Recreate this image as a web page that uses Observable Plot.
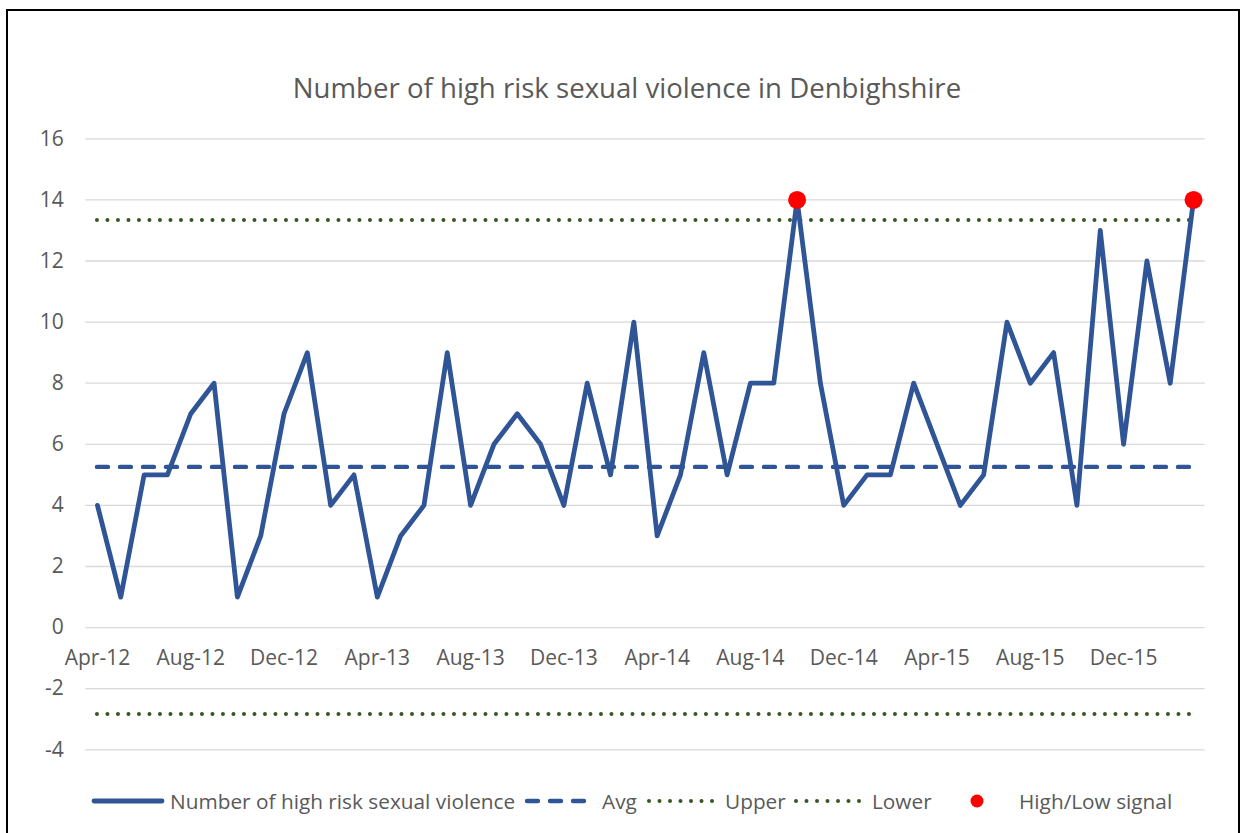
<!DOCTYPE html>
<html><head><meta charset="utf-8">
<script src="https://cdn.jsdelivr.net/npm/d3@7"></script>
<script src="https://cdn.jsdelivr.net/npm/@observablehq/plot@0.6"></script>
<style>
html,body{margin:0;padding:0;background:#fff;width:1240px;height:833px;overflow:hidden;font-family:"Open Sans",sans-serif;}
#frame{position:absolute;left:6px;top:9px;width:1234px;height:900px;border:2px solid #000;box-sizing:border-box;}
#title{position:absolute;left:0;width:1254px;top:68px;text-align:center;font-size:27.6px;color:#595959;white-space:nowrap;}
#chart{position:absolute;left:0;top:0;}
#legend{position:absolute;left:0;top:770px;}
#legend text{font-family:"Open Sans",sans-serif;font-size:20.8px;fill:#595959;}
</style></head><body>
<div id="frame"></div>
<div id="chart"></div>
<div id="title">Number of high risk sexual violence in Denbighshire</div>
<svg id="legend" width="1240" height="60"></svg>
<script>
const months = ["Apr-12","May-12","Jun-12","Jul-12","Aug-12","Sep-12","Oct-12","Nov-12","Dec-12","Jan-13","Feb-13","Mar-13",
"Apr-13","May-13","Jun-13","Jul-13","Aug-13","Sep-13","Oct-13","Nov-13","Dec-13","Jan-14","Feb-14","Mar-14",
"Apr-14","May-14","Jun-14","Jul-14","Aug-14","Sep-14","Oct-14","Nov-14","Dec-14","Jan-15","Feb-15","Mar-15",
"Apr-15","May-15","Jun-15","Jul-15","Aug-15","Sep-15","Oct-15","Nov-15","Dec-15","Jan-16","Feb-16","Mar-16"];
const counts = [4,1,5,5,7,8,1,3,7,9,4,5,
1,3,4,9,4,6,7,6,4,8,5,10,
3,5,9,5,8,8,14,8,4,5,5,8,
6,4,5,10,8,9,4,13,6,12,8,14];
const avg = 5.26;
const upper = 13.34;
const lower = -2.83;
const xTickLabels = ["Apr-12","Aug-12","Dec-12","Apr-13","Aug-13","Dec-13","Apr-14","Aug-14","Dec-14","Apr-15","Aug-15","Dec-15"];
const yTicks = [-4,-2,0,2,4,6,8,10,12,14,16];

const data = months.map((m,i)=>({i, month:m, value:counts[i]}));
const signals = data.filter(d => d.value > upper || d.value < lower);
const xTicks = xTickLabels.map(l => ({i: months.indexOf(l), label: l}));
const n = months.length;

const blue = "#2F5597", green = "#375623", grey = "#595959";
const fmt = d => d < 0 ? "-" + Math.abs(d) : String(d);

const plot = Plot.plot({
  width: 1240, height: 780,
  marginTop: 138.3, marginBottom: 30.7, marginLeft: 85.3, marginRight: 35.3,
  style: {fontFamily: "Open Sans, sans-serif", fontSize: "21px", color: grey, background: "transparent"},
  x: {type: "linear", domain: [-0.5, n - 0.5], axis: null},
  y: {domain: [-4, 16], ticks: yTicks, tickSize: 0, tickPadding: 22, label: null, tickFormat: fmt},
  marks: [
    Plot.ruleY(yTicks, {stroke: "#d9d9d9", strokeWidth: 1.3}),
    Plot.ruleY([lower], {x1: 0, x2: n - 1, stroke: green, strokeWidth: 4, strokeDasharray: "0,10.5", strokeLinecap: "round"}),
    Plot.ruleY([upper], {x1: 0, x2: n - 1, stroke: green, strokeWidth: 4, strokeDasharray: "0,10.5", strokeLinecap: "round"}),
    Plot.ruleY([avg], {x1: 0, x2: n - 1, stroke: blue, strokeWidth: 4.4, strokeDasharray: "11,12", strokeLinecap: "round"}),
    Plot.line(data, {x: "i", y: "value", stroke: blue, strokeWidth: 4.8, strokeLinejoin: "round", strokeLinecap: "round"}),
    Plot.dot(signals, {x: "i", y: "value", r: 9, fill: "#FF0000", stroke: "none"}),
    Plot.text(xTicks, {x: "i", y: () => 0, text: "label", dy: 31, fill: grey, fontSize: 21}),
    Plot.axisY({ticks: yTicks, tickSize: 0, tickPadding: 22, fill: grey, fontSize: 21, tickFormat: fmt})
  ]
});
document.getElementById("chart").appendChild(plot);

// Legend
const lg = d3.select("#legend");
const cy = 31;
lg.append("line").attr("x1",94).attr("x2",162).attr("y1",cy).attr("y2",cy).attr("stroke",blue).attr("stroke-width",4.8).attr("stroke-linecap","round");
lg.append("text").attr("x",170).attr("y",cy+7.5).text("Number of high risk sexual violence");
lg.append("line").attr("x1",527).attr("x2",585).attr("y1",cy).attr("y2",cy).attr("stroke",blue).attr("stroke-width",4.4).attr("stroke-dasharray","11,12").attr("stroke-linecap","round");
lg.append("text").attr("x",602).attr("y",cy+7.5).text("Avg");
lg.append("line").attr("x1",649).attr("x2",713).attr("y1",cy).attr("y2",cy).attr("stroke",green).attr("stroke-width",4).attr("stroke-dasharray","0,10.5").attr("stroke-linecap","round");
lg.append("text").attr("x",725).attr("y",cy+7.5).text("Upper");
lg.append("line").attr("x1",796).attr("x2",860).attr("y1",cy).attr("y2",cy).attr("stroke",green).attr("stroke-width",4).attr("stroke-dasharray","0,10.5").attr("stroke-linecap","round");
lg.append("text").attr("x",872).attr("y",cy+7.5).text("Lower");
lg.append("circle").attr("cx",977).attr("cy",cy).attr("r",6.5).attr("fill","#FF0000");
lg.append("text").attr("x",1019).attr("y",cy+7.5).text("High/Low signal");
</script>
</body></html>
